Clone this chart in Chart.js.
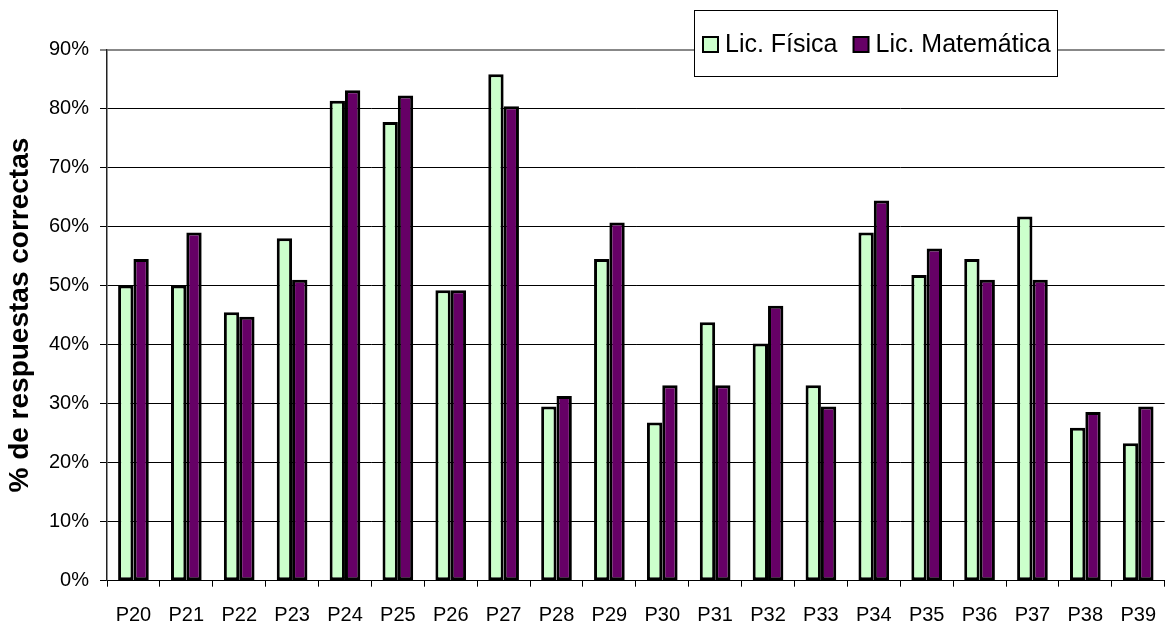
<!DOCTYPE html>
<html>
<head>
<meta charset="utf-8">
<script src="https://cdn.jsdelivr.net/npm/chart.js@4"></script>
<style>
  body { margin: 0; background: #fff; }
  #wrap { width: 1173px; height: 626px; }
</style>
</head>
<body>
<div id="wrap"><canvas id="grafico" width="1173" height="626"></canvas></div>
<script>
// categorías y valores (% de respuestas correctas)
const preguntas = ["P20","P21","P22","P23","P24","P25","P26","P27","P28","P29",
                   "P30","P31","P32","P33","P34","P35","P36","P37","P38","P39"];
const licFisica = [50.0, 50.0, 45.5, 58.0, 81.3, 77.7, 49.2, 85.8, 29.5, 54.5,
                   26.8, 43.8, 40.2, 33.1, 59.0, 51.8, 54.5, 61.7, 25.9, 23.3];
const licMatematica = [54.5, 59.0, 44.7, 51.0, 83.1, 82.2, 49.2, 80.4, 31.3, 60.7,
                       33.1, 33.1, 46.6, 29.5, 64.4, 56.3, 51.0, 51.0, 28.6, 29.5];
const yTicks = [0, 10, 20, 30, 40, 50, 60, 70, 80, 90];

const FUENTE = "'Liberation Sans', Arial, sans-serif";

// leyenda en caja, dibujada a partir de los datasets
const leyendaCaja = {
    id: "leyendaCaja",
    afterDraw(chart) {
        const ctx = chart.ctx;
        ctx.save();
        ctx.fillStyle = "#fff";
        ctx.fillRect(694, 10, 363, 66);
        ctx.strokeStyle = "#000";
        ctx.lineWidth = 1;
        ctx.strokeRect(694.5, 10.5, 363, 66);
        ctx.font = "25px " + FUENTE;
        ctx.textBaseline = "middle";
        let x = 703;
        chart.data.datasets.forEach(ds => {
            ctx.fillStyle = ds.backgroundColor;
            ctx.fillRect(x, 37, 15, 15);
            ctx.lineWidth = 2;
            ctx.strokeRect(x, 37, 15, 15);
            ctx.fillStyle = "#000";
            ctx.fillText(ds.label, x + 22, 45);
            x += 22 + ctx.measureText(ds.label).width + 16;
        });
        ctx.restore();
    }
};

new Chart(document.getElementById("grafico"), {
    type: "bar",
    data: {
        labels: preguntas,
        datasets: [
            { label: "Lic. Física", data: licFisica, backgroundColor: "#CCFFCC",
              borderColor: "#000", borderWidth: 3, borderSkipped: false },
            { label: "Lic. Matemática", data: licMatematica, backgroundColor: "#660066",
              borderColor: "#000", borderWidth: 3, borderSkipped: false }
        ]
    },
    options: {
        responsive: false,
        animation: false,
        layout: { padding: { top: 49.5, right: 0, left: 0, bottom: 0 } },
        datasets: { bar: { categoryPercentage: 0.58, barPercentage: 1 } },
        plugins: { legend: { display: false }, tooltip: { enabled: false } },
        scales: {
            x: {
                afterFit: s => { s.height = 45.3; },
                grid: { drawOnChartArea: false, drawTicks: true, tickLength: 6, color: "#000", offset: true },
                border: { color: "#000", width: 1 },
                ticks: { color: "#000", font: { family: FUENTE, size: 20 }, padding: 17, maxRotation: 0 }
            },
            y: {
                min: 0,
                max: 90,
                afterFit: s => { s.width = 107; },
                afterBuildTicks: s => { s.ticks = yTicks.map(v => ({ value: v })); },
                grid: {
                    color: c => (c.tick && c.tick.value === 90) ? "#888" : "#000",
                    lineWidth: c => (c.tick && c.tick.value === 90) ? 2 : 1,
                    tickLength: 7
                },
                border: { color: "#222", width: 1.5 },
                ticks: { color: "#000", font: { family: FUENTE, size: 20 }, padding: 11,
                         callback: v => v + "%" },
                title: { display: true, text: "% de respuestas correctas", color: "#000",
                         font: { family: FUENTE, size: 28, weight: "bold" },
                         padding: { top: 3, bottom: 0 } }
            }
        }
    },
    plugins: [leyendaCaja]
});
</script>
</body>
</html>
